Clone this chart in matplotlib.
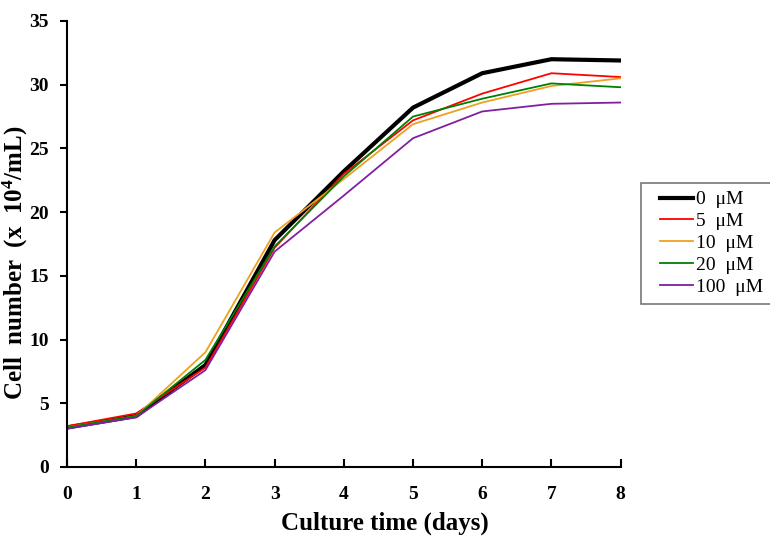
import matplotlib
matplotlib.use("Agg")
import matplotlib.pyplot as plt
from matplotlib.lines import Line2D
from matplotlib.legend_handler import HandlerLine2D

days = [0, 1, 2, 3, 4, 5, 6, 7, 8]
labels = ["0  μM", "5  μM", "10  μM", "20  μM", "100  μM"]
s0 = [3.1, 4.0, 8.0, 17.8, 23.2, 28.2, 30.9, 32.0, 31.9]
s5 = [3.2, 4.2, 7.8, 17.2, 23.0, 27.2, 29.3, 30.9, 30.6]
s10 = [3.1, 4.0, 9.0, 18.4, 22.6, 26.9, 28.6, 29.9, 30.5]
s20 = [3.1, 4.0, 8.4, 17.3, 22.8, 27.5, 28.9, 30.1, 29.8]
s100 = [3.0, 3.9, 7.6, 16.9, 21.3, 25.8, 27.9, 28.5, 28.6]

series = [s0, s5, s10, s20, s100]
colors = ["#000000", "#ff0000", "#f0a020", "#008000", "#8020a0"]
widths = [3.0, 1.3, 1.3, 1.3, 1.3]

plt.rcParams['font.family'] = ['Liberation Serif', 'DejaVu Serif']

fig = plt.figure(figsize=(7.7, 5.38), dpi=100)
ax = fig.add_axes([0.087, 0.132, 0.719, 0.829])

for s, c, w, l in zip(series, colors, widths, labels):
    ax.plot(days, s, color=c, lw=w, label=l)

ax.set_xlim(0, 8)
ax.set_ylim(0, 35)
ax.set_xticks(range(0, 9))
ax.set_yticks(range(0, 36, 5))
for sp in ['top', 'right']:
    ax.spines[sp].set_visible(False)
for sp in ['left', 'bottom']:
    ax.spines[sp].set_linewidth(1.5)
ax.tick_params(axis='x', direction='in', length=6, width=1.5, pad=14, labelsize=14)
ax.tick_params(axis='y', direction='out', length=5, width=1.5, pad=8, labelsize=14)
for t in ax.get_xticklabels() + ax.get_yticklabels():
    t.set_fontweight('bold')

ax.set_xlabel("Culture time (days)", fontsize=18, fontweight='bold')
ax.xaxis.set_label_coords(0.574, -0.1)
ax.set_ylabel("Cell  number  (x  10$\\mathregular{^4}$/mL)", fontsize=18, fontweight='bold')
ax.yaxis.set_label_coords(-0.066, 0.457)

leg = fig.legend(loc='upper left', bbox_to_anchor=(0.832, 0.660), fontsize=14,
                 frameon=True, fancybox=False, edgecolor='#555555',
                 handlelength=2.27, handletextpad=0.2, labelspacing=0.22,
                 borderpad=0.4, borderaxespad=0,
                 handler_map={Line2D: HandlerLine2D(xpad=0.57)})
leg.get_frame().set_linewidth(1.2)

fig.savefig("out.png", dpi=100)
